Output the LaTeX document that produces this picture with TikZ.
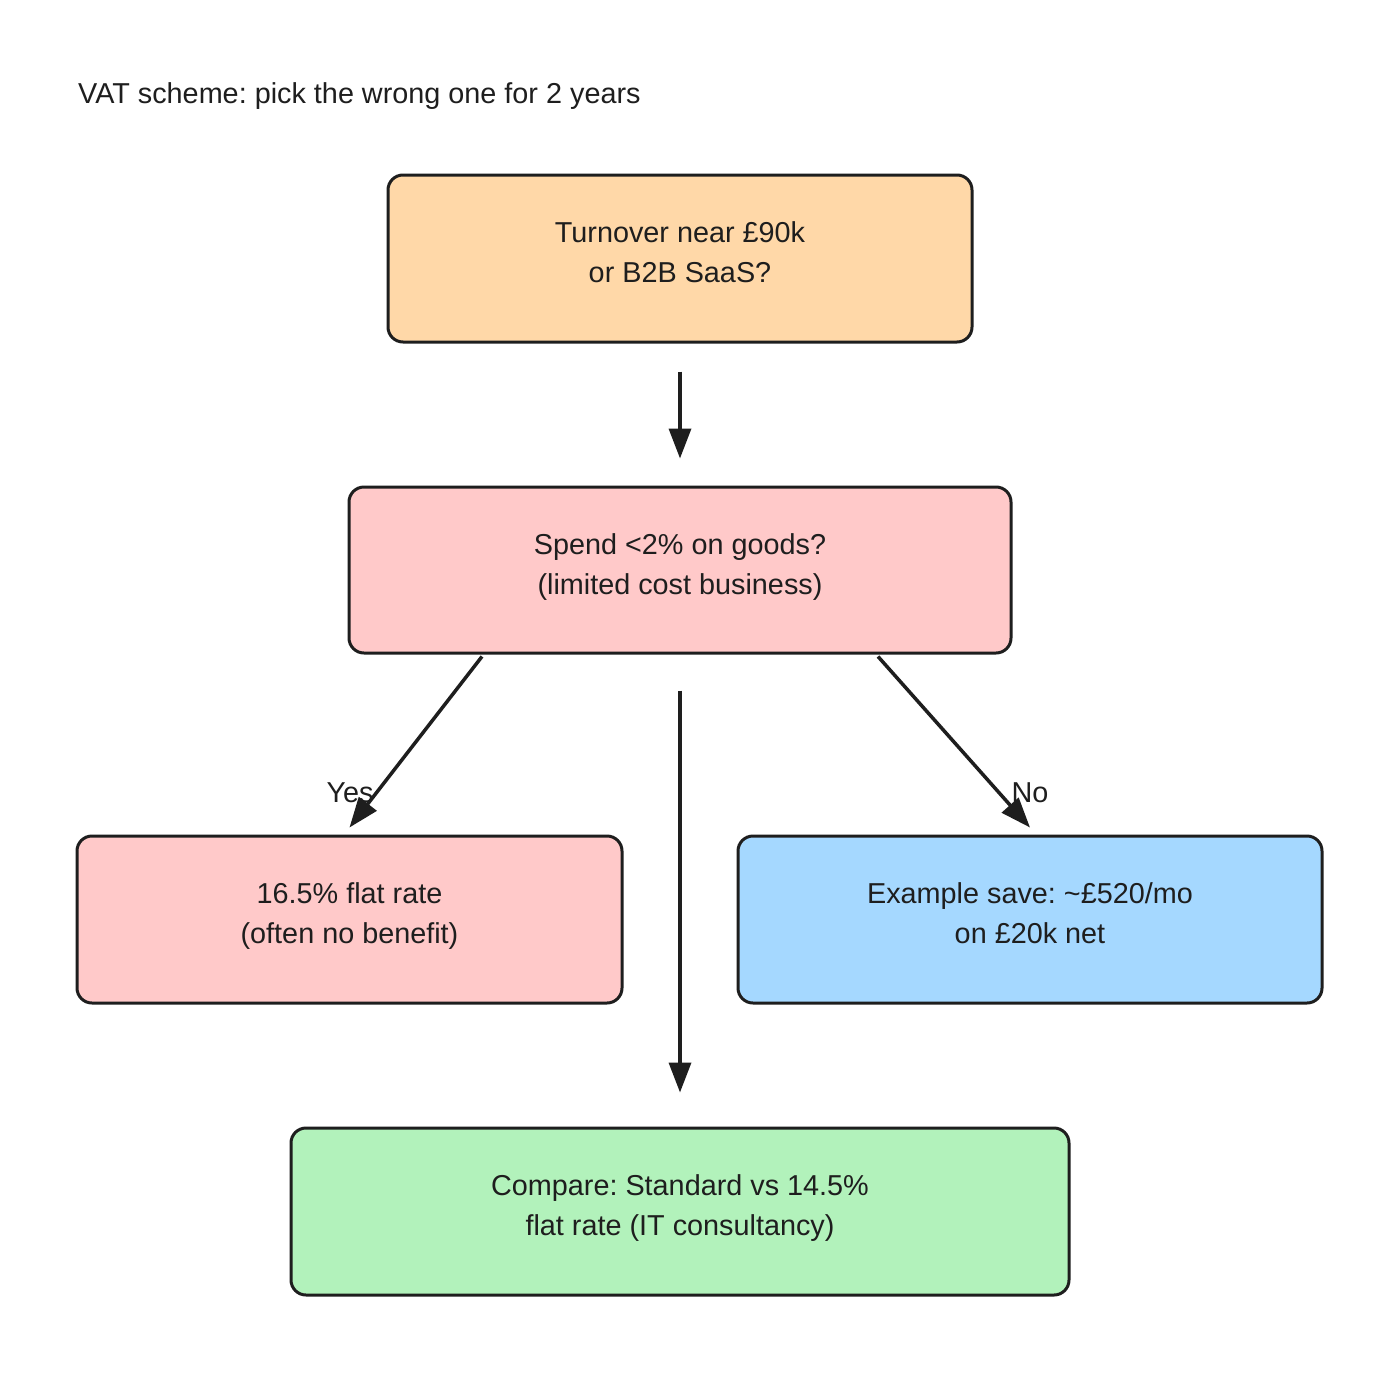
\documentclass[tikz,border=0pt]{standalone}
\usepackage{fontspec}
\setmainfont{Liberation Sans}
\frenchspacing
\usetikzlibrary{arrows.meta}
\definecolor{ink}{HTML}{1E1E1E}
\definecolor{peach}{HTML}{FFD8A8}
\definecolor{pinkf}{HTML}{FFC9C9}
\definecolor{bluef}{HTML}{A5D8FF}
\definecolor{greenf}{HTML}{B2F2BB}
\newcommand{\btxt}[1]{\raisebox{4pt}[\height][\depth]{\begin{tabular}{@{}c@{}}#1\end{tabular}}}
\begin{document}
\begin{tikzpicture}[x=1pt,y=-1pt,
  box/.style={draw=ink,line width=3pt,rounded corners=15pt,text=ink,
    font=\fontsize{28.8}{40}\selectfont,inner sep=0pt},
  conn/.style={draw=ink,line width=3.5pt,-{Triangle[length=30pt,width=22pt]}},
  lbl/.style={text=ink,font=\fontsize{28.8}{40}\selectfont,inner sep=0pt}]
\useasboundingbox (0,0) rectangle (1400,1373);
\fill[white] (0,0) rectangle (1400,1373);
\node[lbl,anchor=west] (title) at (78,96) {VAT scheme: pick the wrong one for 2 years};
\node[box,fill=peach,minimum width=584pt,minimum height=167pt] (top) at (680,258.5) {\btxt{Turnover near £90k\\or B2B SaaS?}};
\node[box,fill=pinkf,minimum width=662pt,minimum height=166pt] (mid) at (680,570) {\btxt{Spend <2\% on goods?\\(limited cost business)}};
\node[box,fill=pinkf,minimum width=545pt,minimum height=167pt] (yes) at (349.5,919.5) {\btxt{16.5\% flat rate\\(often no benefit)}};
\node[box,fill=bluef,minimum width=584pt,minimum height=167pt] (no) at (1030,919.5) {\btxt{Example save: \textasciitilde£520/mo\\on £20k net}};
\node[box,fill=greenf,minimum width=778pt,minimum height=167pt] (cmp) at (680,1211.5) {\btxt{Compare: Standard vs 14.5\%\\flat rate (IT consultancy)}};
\draw[conn] ([yshift=-28pt]top.south) -- ([yshift=27pt]mid.north);
\draw[conn] ([xshift=-198pt,yshift=-2pt]mid.south) -- ([yshift=7pt]yes.north);
\draw[conn] ([xshift=198pt,yshift=-2pt]mid.south) -- ([yshift=7pt]no.north);
\draw[conn] ([yshift=-36pt]mid.south) -- ([yshift=34pt]cmp.north);
\node[lbl] (ylbl) at (350,793) {Yes};
\node[lbl] (nlbl) at (1030,793) {No};
\end{tikzpicture}
\end{document}
